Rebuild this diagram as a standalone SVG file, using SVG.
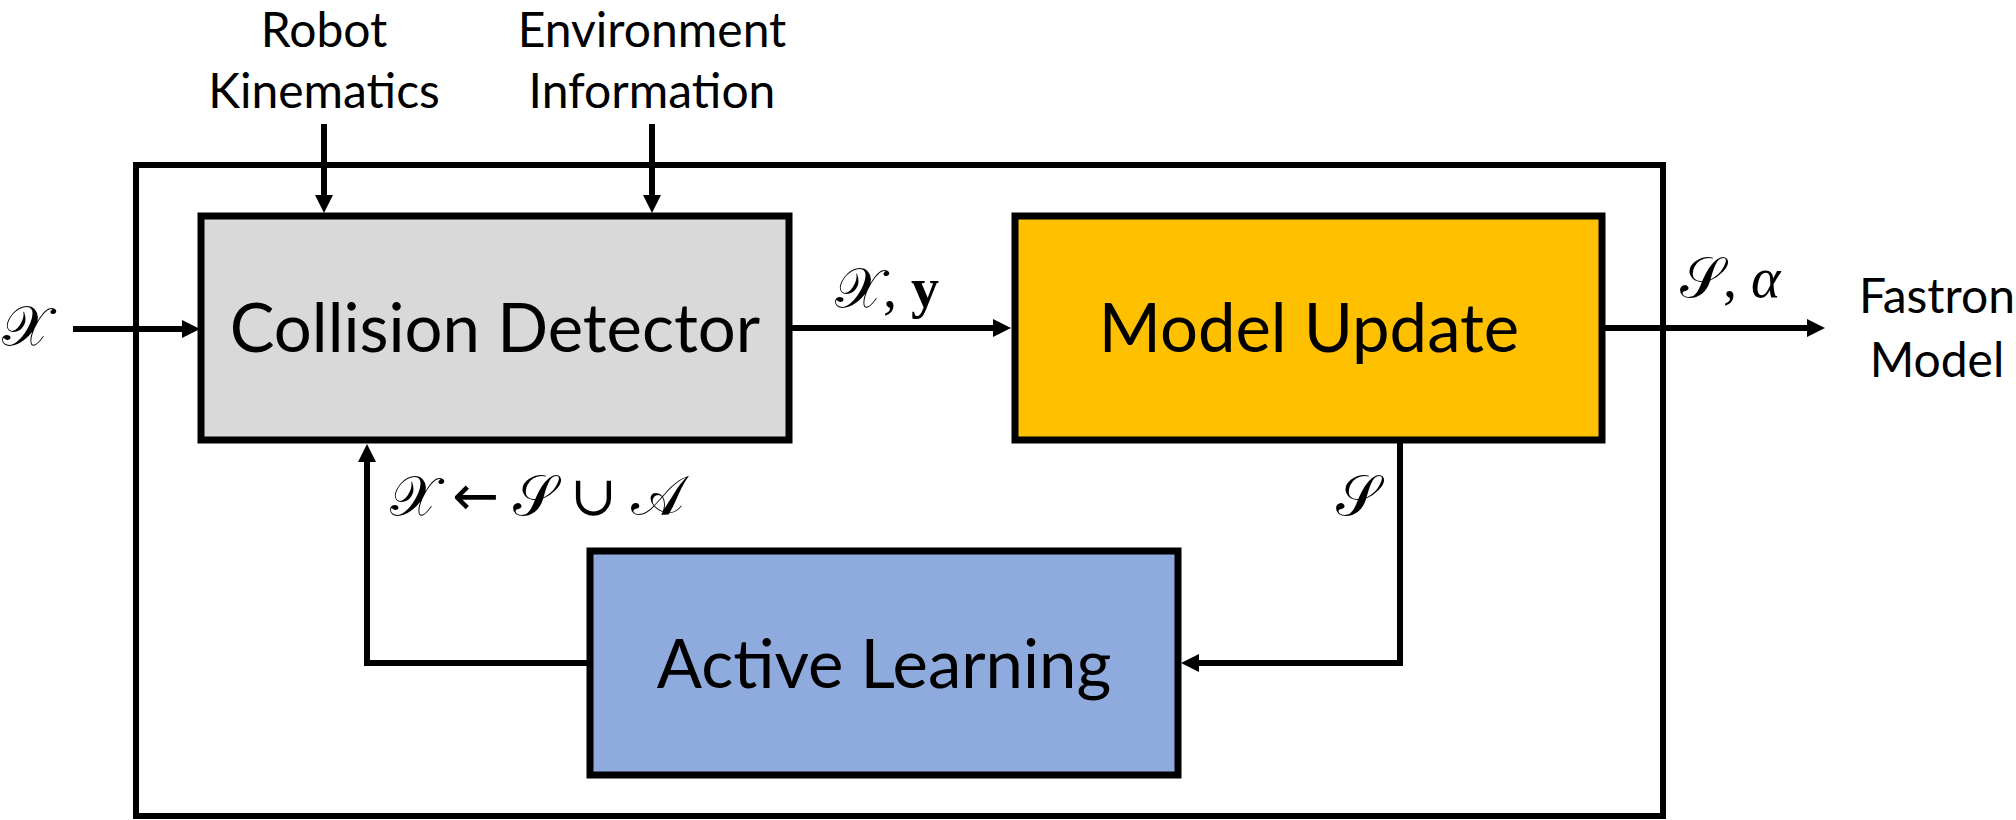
<svg xmlns="http://www.w3.org/2000/svg" width="2016" height="820" viewBox="0 0 2016 820">
  <style>
    .box { stroke: #000; stroke-width: 7; }
    .frame { fill: none; stroke: #000; stroke-width: 6; }
    .conn { fill: none; stroke: #000; stroke-width: 6; }
    .lbl { font-family: Lato, "Liberation Sans", sans-serif; fill: #000; text-anchor: middle; }
    .big { font-size: 67px; }
    .small { font-size: 48px; }
    .math { font-family: "Liberation Serif", "DejaVu Serif", serif; font-size: 56px; fill: #000; }
    .arr { font-family: "DejaVu Sans", sans-serif; font-weight: normal; }
  </style>
  <defs>
    <marker id="arrow" markerUnits="userSpaceOnUse" markerWidth="20" markerHeight="20" refX="4" refY="9" orient="auto">
      <path d="M0,0 L18,9 L0,18 Z" fill="#000"/>
    </marker>
  </defs>
  <rect width="2016" height="820" fill="#fff"/>

  <g id="frame">
    <rect class="frame" x="136" y="165" width="1527" height="651"/>
  </g>

  <g id="connectors">
    <line class="conn" x1="73" y1="329" x2="186" y2="329" marker-end="url(#arrow)"/>
    <line class="conn" x1="324" y1="124" x2="324" y2="199" marker-end="url(#arrow)"/>
    <line class="conn" x1="652" y1="124" x2="652" y2="199" marker-end="url(#arrow)"/>
    <line class="conn" x1="791" y1="328" x2="997" y2="328" marker-end="url(#arrow)"/>
    <line class="conn" x1="1605" y1="328" x2="1811" y2="328" marker-end="url(#arrow)"/>
    <path class="conn" d="M1400,443 L1400,663 L1195,663" marker-end="url(#arrow)"/>
    <path class="conn" d="M590,663 L367,663 L367,458" marker-end="url(#arrow)"/>
  </g>

  <g id="robot-kinematics">
    <text class="lbl small" x="324" y="47">Robot</text>
    <text class="lbl small" x="324" y="108">Kinematics</text>
  </g>
  <g id="environment-information">
    <text class="lbl small" x="652" y="47">Environment</text>
    <text class="lbl small" x="652" y="108">Information</text>
  </g>

  <g id="collision-detector">
    <rect class="box" x="201" y="216" width="588" height="224" fill="#d9d9d9"/>
    <text class="lbl big" x="495" y="352">Collision Detector</text>
  </g>
  <g id="model-update">
    <rect class="box" x="1015" y="216" width="587" height="224" fill="#ffc000"/>
    <text class="lbl big" x="1309" y="352">Model Update</text>
  </g>
  <g id="active-learning">
    <rect class="box" x="590" y="551" width="588" height="224" fill="#8faadc"/>
    <text class="lbl big" x="884" y="688">Active Learning</text>
  </g>
  <g id="fastron-model">
    <text class="lbl small" x="1937" y="313">Fastron</text>
    <text class="lbl small" x="1937" y="377">Model</text>
  </g>

  <g id="math-labels">
    <text class="math" x="2" y="345">𝒳</text>
    <text class="math" x="835" y="307">𝒳, <tspan font-weight="bold">y</tspan></text>
    <text class="math" x="1680" y="297">𝒮, <tspan font-style="italic">α</tspan></text>
    <text class="math" x="390" y="515">𝒳 <tspan class="arr">←</tspan> 𝒮 ∪ 𝒜</text>
    <text class="math" x="1336" y="515">𝒮</text>
  </g>
</svg>
